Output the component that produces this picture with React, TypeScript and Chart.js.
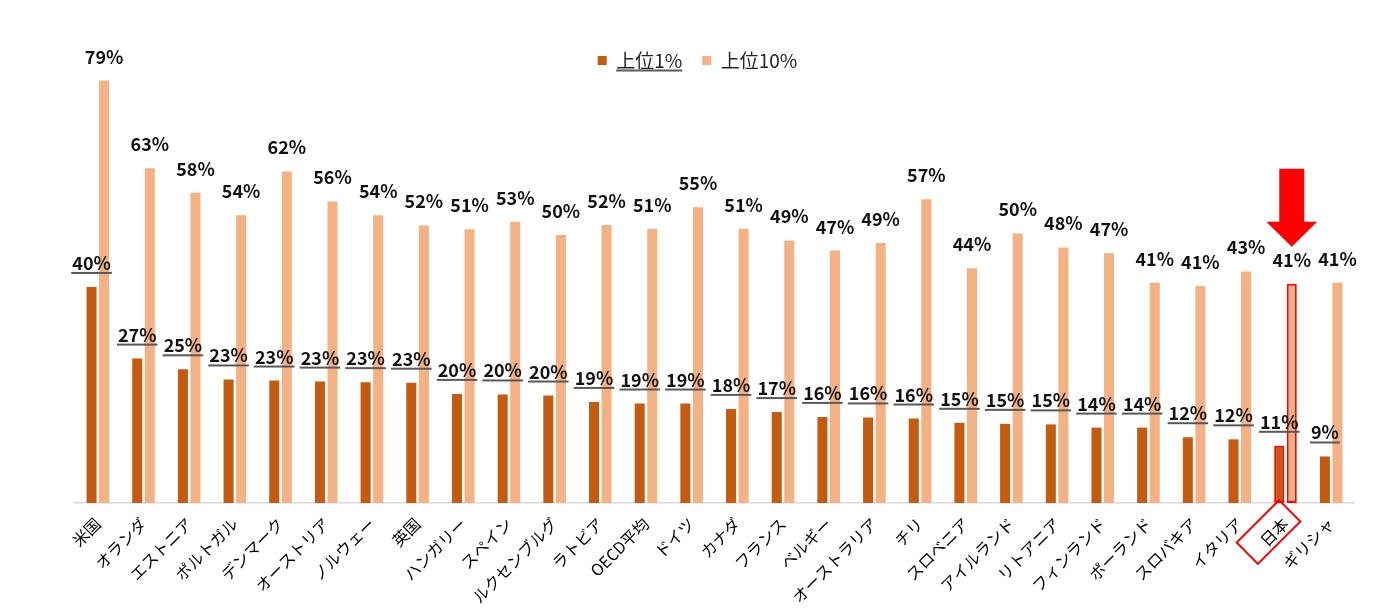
import React, { useEffect, useRef } from "react";
import { Chart, registerables } from "chart.js";

Chart.register(...registerables);

// 国別 所得上位層のシェア
const countries = [
  "米国", "オランダ", "エストニア", "ポルトガル", "デンマーク", "オーストリア", "ノルウェー",
  "英国", "ハンガリー", "スペイン", "ルクセンブルグ", "ラトビア", "OECD平均", "ドイツ",
  "カナダ", "フランス", "ベルギー", "オーストラリア", "チリ", "スロベニア", "アイルランド",
  "リトアニア", "フィンランド", "ポーランド", "スロバキア", "イタリア", "日本", "ギリシャ",
];
const top1 = [
  40.4, 27.0, 25.0, 23.1, 22.9, 22.7, 22.6, 22.5, 20.4, 20.3, 20.1, 18.9, 18.6, 18.6,
  17.6, 17.0, 16.1, 16.0, 15.8, 15.0, 14.8, 14.7, 14.1, 14.1, 12.3, 11.9, 10.7, 8.7,
];
const top10 = [
  79.0, 62.6, 58.0, 53.8, 62.0, 56.4, 53.8, 51.9, 51.2, 52.6, 50.1, 52.0, 51.3, 55.3,
  51.3, 49.1, 47.2, 48.6, 56.8, 43.9, 50.4, 47.8, 46.7, 41.2, 40.6, 43.3, 41.0, 41.2,
];
const seriesNames = ["上位1%", "上位10%"];
const highlight = "日本";

const DARK = "#C55A11";
const LIGHT = "#F4B183";
const RED = "#FF0000";
const FONT = "'Noto Sans CJK JP', 'Noto Sans', sans-serif";
const LEGEND_SIZE = 19;

const hi = countries.indexOf(highlight);
const borderWidths = countries.map((_, i) => (i === hi ? 2 : 0));

// 凡例を少し左へ寄せる
const legendShift = {
  id: "legendShift",
  afterLayout(chart: Chart) {
    const legend: any = chart.legend;
    if (!legend) return;
    const dx = -17;
    legend.left += dx;
    legend.right += dx;
    (legend.legendHitBoxes || []).forEach((h: any) => (h.left += dx));
  },
};

const valueLabels = {
  id: "valueLabels",
  afterDatasetsDraw(chart: Chart) {
    const ctx = chart.ctx;
    ctx.save();
    ctx.font = `bold 18px ${FONT}`;
    ctx.textAlign = "center";
    ctx.textBaseline = "alphabetic";
    chart.data.datasets.forEach((ds, i) => {
      const meta = chart.getDatasetMeta(i);
      meta.data.forEach((bar: any, j) => {
        const text = Math.round(ds.data[j] as number) + "%";
        const y = bar.y - 17;
        ctx.fillStyle = "#111";
        ctx.fillText(text, bar.x, y);
        if (i === 0) {
          const w = ctx.measureText(text).width;
          ctx.fillStyle = "#595959";
          ctx.fillRect(bar.x - w / 2 - 1, y + 2, w + 2, 2);
        }
      });
    });
    ctx.restore();
  },
};

const annotations = {
  id: "annotations",
  afterDraw(chart: Chart) {
    const ctx = chart.ctx;
    ctx.save();

    // 凡例「上位1%」の下線
    const legend: any = chart.legend;
    const hb = legend?.legendHitBoxes?.[0];
    if (hb) {
      const x0 = hb.left + 9 + LEGEND_SIZE / 2;
      const x1 = hb.left + hb.width;
      ctx.fillStyle = "#595959";
      ctx.fillRect(x0, hb.top + hb.height / 2 + 9, x1 - x0, 2);
    }

    // 日本の矢印
    const bar: any = chart.getDatasetMeta(1).data[hi];
    const cx = bar.x;
    const tip = bar.y - 37;
    ctx.fillStyle = RED;
    ctx.beginPath();
    ctx.moveTo(cx - 12.5, tip - 78);
    ctx.lineTo(cx + 12.5, tip - 78);
    ctx.lineTo(cx + 12.5, tip - 25);
    ctx.lineTo(cx + 25.5, tip - 25);
    ctx.lineTo(cx, tip);
    ctx.lineTo(cx - 25.5, tip - 25);
    ctx.lineTo(cx - 12.5, tip - 25);
    ctx.closePath();
    ctx.fill();

    // 日本ラベルの枠
    const tx = chart.scales.x.getPixelForValue(hi);
    ctx.translate(tx - 17, chart.chartArea.bottom + 29);
    ctx.rotate(-Math.PI / 4);
    ctx.strokeStyle = RED;
    ctx.lineWidth = 2;
    ctx.strokeRect(-30, -15, 60, 30);
    ctx.restore();
  },
};

export default function App() {
  const canvasRef = useRef<HTMLCanvasElement>(null);

  useEffect(() => {
    document.body.style.margin = "0";
    const ctx = canvasRef.current?.getContext("2d");
    if (!ctx) return;

    const chart = new Chart(ctx, {
      type: "bar",
      data: {
        labels: countries,
        datasets: [
          {
            label: seriesNames[0],
            data: top1,
            backgroundColor: DARK,
            borderColor: RED,
            borderWidth: borderWidths,
            borderSkipped: false,
            categoryPercentage: 0.55,
            barPercentage: 0.8,
          },
          {
            label: seriesNames[1],
            data: top10,
            backgroundColor: LIGHT,
            borderColor: RED,
            borderWidth: borderWidths,
            borderSkipped: false,
            categoryPercentage: 0.55,
            barPercentage: 0.8,
          },
        ],
      },
      options: {
        responsive: true,
        maintainAspectRatio: false,
        animation: false,
        layout: { padding: { left: 75, right: 46, top: 31, bottom: 0 } },
        font: { family: FONT },
        scales: {
          x: {
            grid: { display: false, drawTicks: false },
            border: { display: true, color: "#D9D9D9", width: 1.5 },
            ticks: {
              autoSkip: false,
              minRotation: 45,
              maxRotation: 45,
              padding: 11,
              color: "#000",
              font: { family: FONT, size: 16 },
            },
            afterFit: (scale: any) => {
              scale.height = 109;
            },
          },
          y: { display: false, min: 0, max: 79.1 },
        },
        plugins: {
          legend: {
            position: "top",
            labels: {
              boxWidth: 9,
              boxHeight: 9,
              padding: 20,
              color: "#262626",
              font: { family: FONT, size: LEGEND_SIZE },
            },
          },
          tooltip: { enabled: false },
        },
      },
      plugins: [legendShift, valueLabels, annotations],
    });

    return () => chart.destroy();
  }, []);

  return (
    <div style={{ width: 1400, height: 612, position: "relative" }}>
      <canvas ref={canvasRef}></canvas>
    </div>
  );
}
